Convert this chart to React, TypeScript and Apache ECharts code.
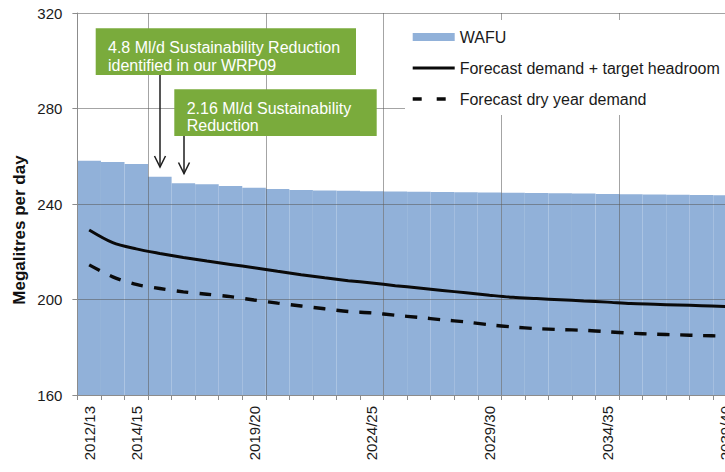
import React, { useEffect, useRef } from "react";
import * as echarts from "echarts";

const categories = [
  "2012/13", "2013/14", "2014/15", "2015/16", "2016/17", "2017/18", "2018/19",
  "2019/20", "2020/21", "2021/22", "2022/23", "2023/24", "2024/25", "2025/26",
  "2026/27", "2027/28", "2028/29", "2029/30", "2030/31", "2031/32", "2032/33",
  "2033/34", "2034/35", "2035/36", "2036/37", "2037/38", "2038/39", "2039/40",
];
const shownLabels = ["2012/13", "2014/15", "2019/20", "2024/25", "2029/30", "2034/35", "2039/40"];
// categories whose left boundary carries a vertical gridline
const gridlineCategories = ["2015/16", "2020/21", "2025/26", "2030/31", "2035/36"];

const wafu = [
  258.1, 257.6, 256.8, 251.4, 248.7, 248.3, 247.5, 246.8, 246.3, 245.9,
  245.7, 245.5, 245.3, 245.2, 245.1, 245.0, 244.9, 244.8, 244.7, 244.6,
  244.5, 244.4, 244.2, 244.1, 244.0, 243.9, 243.8, 243.7,
];
const demandHeadroom = [
  229.1, 223.8, 221.2, 219.3, 217.6, 216.1, 214.7, 213.3, 211.8, 210.4,
  209.1, 207.9, 206.9, 205.8, 204.8, 203.8, 202.8, 201.8, 200.9, 200.4,
  199.9, 199.4, 198.9, 198.3, 198.0, 197.7, 197.4, 197.1,
];
const dryYearDemand = [
  214.5, 209.5, 206.3, 204.6, 203.2, 202.2, 201.2, 199.8, 198.5, 197.3,
  196.1, 195.0, 194.4, 193.4, 192.5, 191.5, 190.6, 189.4, 188.5, 187.8,
  187.4, 187.1, 186.5, 185.9, 185.5, 185.2, 184.9, 184.7,
];

const yTicks = { min: 160, max: 320, interval: 40 };
const seriesNames = ["WAFU", "Forecast demand + target headroom", "Forecast dry year demand"];
const annotations = [
  "4.8 Ml/d Sustainability Reduction\nidentified in our WRP09",
  "2.16 Ml/d Sustainability\nReduction",
];
const yTitle = "Megalitres per day";

const FONT = "'Liberation Sans', Arial, sans-serif";
const GREEN = "#7aab3c";
const ARROW = "#1e1e1e";

export default function App() {
  const ref = useRef<HTMLDivElement>(null);

  useEffect(() => {
    if (!ref.current) return;
    const chart = echarts.init(ref.current, null, { renderer: "svg" });
    const gridIdx = gridlineCategories.map((c) => categories.indexOf(c));
    const gridColor = "rgba(90,90,90,0.55)";

    const arrow = (x: number, y1: number, y2: number) => [
      { type: "line", shape: { x1: x, y1, x2: x, y2 }, style: { stroke: ARROW, lineWidth: 1.5 } },
      {
        type: "polyline",
        shape: { points: [[x - 5.5, y2 - 11], [x, y2], [x + 5.5, y2 - 11]] },
        style: { stroke: ARROW, lineWidth: 1.5, fill: "none" },
      },
    ];

    chart.setOption({
      animation: false,
      backgroundColor: "#fff",
      textStyle: { fontFamily: FONT },
      grid: { left: 77.4, top: 13, width: 659.4, height: 382, containLabel: false },
      legend: {
        orient: "vertical",
        left: 405,
        top: 20,
        z: 6,
        backgroundColor: "#fff",
        padding: [7, 10, 6, 6],
        itemGap: 11,
        itemWidth: 42,
        itemHeight: 8,
        selectedMode: false,
        textStyle: { fontSize: 16, color: "#1a1a1a", fontFamily: FONT, lineHeight: 20 },
        data: [
          { name: seriesNames[0], icon: "rect" },
          { name: seriesNames[1], itemStyle: { opacity: 0 }, lineStyle: { width: 3.2 } },
          { name: seriesNames[2], itemStyle: { opacity: 0 }, lineStyle: { width: 3.4, type: [9, 15] } },
        ],
      },
      xAxis: {
        type: "category",
        data: categories,
        boundaryGap: true,
        z: 3,
        axisLine: { show: true, lineStyle: { color: "#8c8c8c", width: 1 } },
        axisTick: { show: true, interval: 0, length: 5, lineStyle: { color: "#8c8c8c" } },
        axisLabel: {
          rotate: 90,
          interval: (i: number, v: string) => shownLabels.includes(v),
          fontSize: 15,
          color: "#1a1a1a",
          margin: 11,
          fontFamily: FONT,
        },
        splitLine: {
          show: true,
          interval: (i: number) => gridIdx.includes(i),
          lineStyle: { color: gridColor, width: 1 },
        },
      },
      yAxis: {
        type: "value",
        min: yTicks.min,
        max: yTicks.max,
        interval: yTicks.interval,
        z: 3,
        axisLine: { show: true, lineStyle: { color: "#8c8c8c", width: 1 } },
        axisTick: { show: true, length: 5, lineStyle: { color: "#8c8c8c" } },
        axisLabel: { fontSize: 15, color: "#1a1a1a", margin: 15, fontFamily: FONT },
        splitLine: { show: true, lineStyle: { color: gridColor, width: 1 } },
      },
      series: [
        {
          name: seriesNames[0],
          type: "bar",
          data: wafu,
          barCategoryGap: "0%",
          itemStyle: { color: "#91b1d9" },
          z: 2,
        },
        {
          name: seriesNames[1],
          type: "line",
          data: demandHeadroom,
          symbol: "none",
          smooth: 0.3,
          z: 5,
          lineStyle: { color: "#0a0a0a", width: 3 },
          itemStyle: { color: "#0a0a0a" },
        },
        {
          name: seriesNames[2],
          type: "line",
          data: dryYearDemand,
          symbol: "none",
          smooth: 0.3,
          z: 5,
          lineStyle: { color: "#0a0a0a", width: 3.4, type: [12, 11] },
          itemStyle: { color: "#0a0a0a" },
        },
      ],
      graphic: [
        {
          type: "text",
          x: 19.5,
          y: 230,
          rotation: Math.PI / 2,
          style: {
            text: yTitle,
            font: `bold 17px ${FONT}`,
            fill: "#111",
            align: "center",
            verticalAlign: "middle",
          },
          z: 10,
        },
        { type: "rect", shape: { x: 95.7, y: 28.3, width: 260.3, height: 46.7 }, style: { fill: GREEN }, z: 10 },
        {
          type: "text",
          x: 108,
          y: 56.3,
          style: {
            text: annotations[0],
            font: `16px ${FONT}`,
            fill: "#fff",
            lineHeight: 17.5,
            align: "left",
            verticalAlign: "middle",
          },
          z: 11,
        },
        { type: "rect", shape: { x: 174.3, y: 89.3, width: 202.4, height: 46.7 }, style: { fill: GREEN }, z: 10 },
        {
          type: "text",
          x: 186.7,
          y: 116.8,
          style: {
            text: annotations[1],
            font: `16px ${FONT}`,
            fill: "#fff",
            lineHeight: 17.5,
            align: "left",
            verticalAlign: "middle",
          },
          z: 11,
        },
        ...arrow(160, 75, 167).map((e) => ({ ...e, z: 10 })),
        ...arrow(184, 136, 173.5).map((e) => ({ ...e, z: 10 })),
      ],
    });

    return () => chart.dispose();
  }, []);

  return (
    <div style={{ position: "fixed", left: 0, top: 0, width: 725, height: 472, overflow: "hidden", background: "#fff" }}>
      <div ref={ref} style={{ width: 760, height: 472 }} />
    </div>
  );
}
